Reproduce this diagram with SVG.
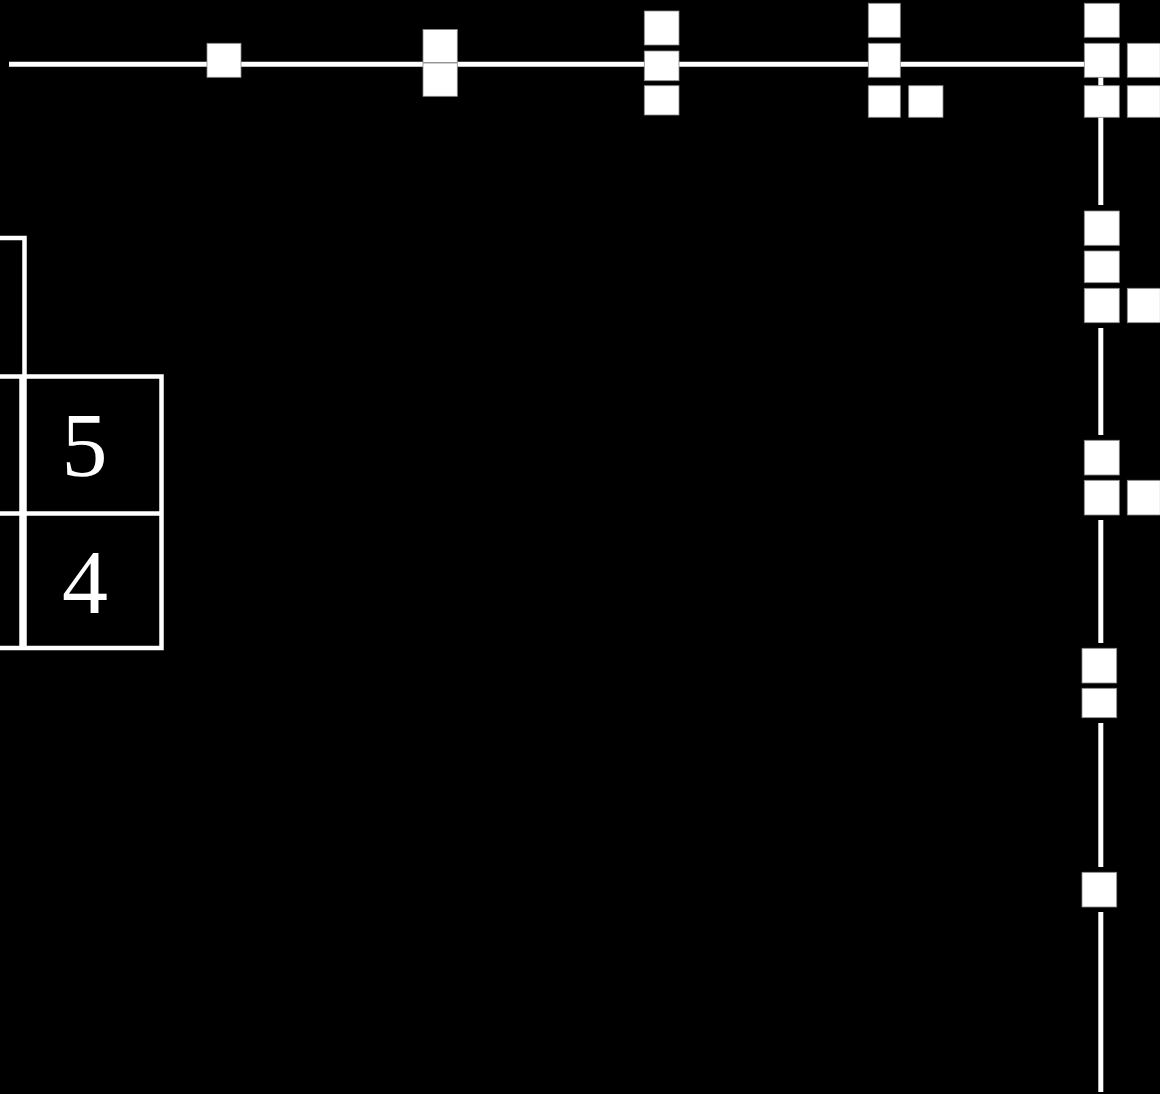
<svg xmlns="http://www.w3.org/2000/svg" width="1160" height="1094" viewBox="0 0 1160 1094">
<style>
.edge{stroke:#fff;stroke-width:5;fill:none}
.box{stroke:#fff;stroke-width:4.5;fill:none}
.sq{fill:#fff;stroke:#888;stroke-width:0.8}
.num{font-family:"Liberation Serif",serif;font-size:92px;fill:#fff;text-anchor:middle}
</style>
<rect width="1160" height="1094" fill="#000"/>
<g id="connectors">
<path class="edge" d="M9,64.2 H1090"/>
<path class="edge" d="M1100.8,64 V205"/>
<path class="edge" d="M1100.8,328 V435"/>
<path class="edge" d="M1100.8,520 V643"/>
<path class="edge" d="M1100.8,723 V867"/>
<path class="edge" d="M1100.8,912 V1092"/>
</g>
<g id="node-a"><rect class="sq" x="207" y="43.3" width="34" height="34"/></g>
<g id="node-b"><rect class="sq" x="423" y="29.5" width="34.3" height="33"/><rect class="sq" x="423" y="63" width="34.3" height="33.3"/></g>
<g id="node-c"><rect class="sq" x="644.3" y="11" width="34.7" height="34"/><rect class="sq" x="644.3" y="51" width="34.7" height="29.7"/><rect class="sq" x="644.3" y="85.7" width="34.7" height="29.3"/></g>
<g id="node-d"><rect class="sq" x="868.3" y="3.3" width="32" height="34"/><rect class="sq" x="868.3" y="43.3" width="32" height="34"/><rect class="sq" x="868.3" y="85.7" width="32" height="31.6"/><rect class="sq" x="908.7" y="85.7" width="34.3" height="31.6"/></g>
<g id="node-e"><rect class="sq" x="1084.3" y="3.3" width="35" height="34"/><rect class="sq" x="1084.3" y="43.3" width="35" height="34"/><rect class="sq" x="1084.3" y="85.7" width="35" height="31.6"/><rect class="sq" x="1127.3" y="43.3" width="33" height="34"/><rect class="sq" x="1127.3" y="85.7" width="33" height="31.6"/></g>
<g id="node-f"><rect class="sq" x="1084.3" y="211" width="35" height="34.3"/><rect class="sq" x="1084.3" y="251" width="35" height="31.7"/><rect class="sq" x="1084.3" y="288.3" width="35" height="34.4"/><rect class="sq" x="1127.3" y="288.3" width="33" height="34.4"/></g>
<g id="node-g"><rect class="sq" x="1084.3" y="440.3" width="35" height="34.7"/><rect class="sq" x="1084.3" y="480.3" width="35" height="34.7"/><rect class="sq" x="1127.3" y="480.3" width="33" height="34.7"/></g>
<g id="node-h"><rect class="sq" x="1082" y="648.3" width="34.7" height="34.7"/><rect class="sq" x="1082" y="688.3" width="34.7" height="29.4"/></g>
<g id="node-i"><rect class="sq" x="1082" y="872.3" width="34.7" height="34.7"/></g>
<g id="grid">
<path class="box" d="M0,238 H24.5 V648"/>
<path class="box" d="M0,376.5 H161.5 V648 H0"/>
<path class="box" d="M0,513.5 H161.5"/>
<path class="box" d="M21.5,376.5 V648"/>
<text class="num" x="84.5" y="476">5</text>
<text class="num" x="85" y="613">4</text>
</g>
</svg>
